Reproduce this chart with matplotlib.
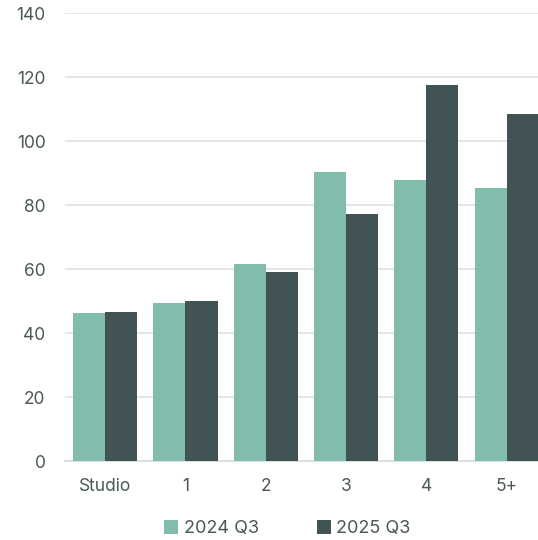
import matplotlib
matplotlib.use("Agg")
import numpy as np
import matplotlib.pyplot as plt

# data
categories = ["Studio", "1", "2", "3", "4", "5+"]
q3_2024 = [46.2, 49.4, 61.6, 90.3, 87.8, 85.3]
q3_2025 = [46.6, 50.0, 59.0, 77.2, 117.5, 108.4]
series_labels = ["2024 Q3", "2025 Q3"]

plt.rcParams["font.family"] = ["Inter", "DejaVu Sans"]

text_color = "#4a5859"
light = "#82bcad"
dark = "#425356"

fig = plt.figure(figsize=(5.38, 5.40), dpi=100)
ax = fig.add_axes([65 / 538, (540 - 461) / 540, (538 - 65) / 538, (461 - 13) / 540])

x = np.arange(len(categories))
w = 0.4
ax.bar(x - w / 2, q3_2024, w, color=light, label=series_labels[0], zorder=3)
ax.bar(x + w / 2, q3_2025, w, color=dark, label=series_labels[1], zorder=3)

ax.set_xlim(-0.5, 5.39)
ax.set_ylim(0, 140)
ax.set_yticks(range(0, 141, 20))
ax.set_xticks(x)
ax.set_xticklabels(categories)

ax.yaxis.grid(True, color="#dde2e0", linewidth=1.2, zorder=0)
ax.set_axisbelow(True)
for s in ["top", "right", "left"]:
    ax.spines[s].set_visible(False)
ax.spines["bottom"].set_color("#d5dbd9")
ax.spines["bottom"].set_linewidth(1.2)

ax.tick_params(axis="both", length=0, labelsize=12.5, colors=text_color)
ax.tick_params(axis="y", pad=14)
ax.tick_params(axis="x", pad=12)

leg = ax.legend(loc="upper center", bbox_to_anchor=(0.47, -0.095), ncol=2,
                frameon=False, fontsize=13, handlelength=0.8, handleheight=0.8,
                handletextpad=0.3, columnspacing=3.2)
for t in leg.get_texts():
    t.set_color(text_color)

fig.savefig("out.png", dpi=100)
